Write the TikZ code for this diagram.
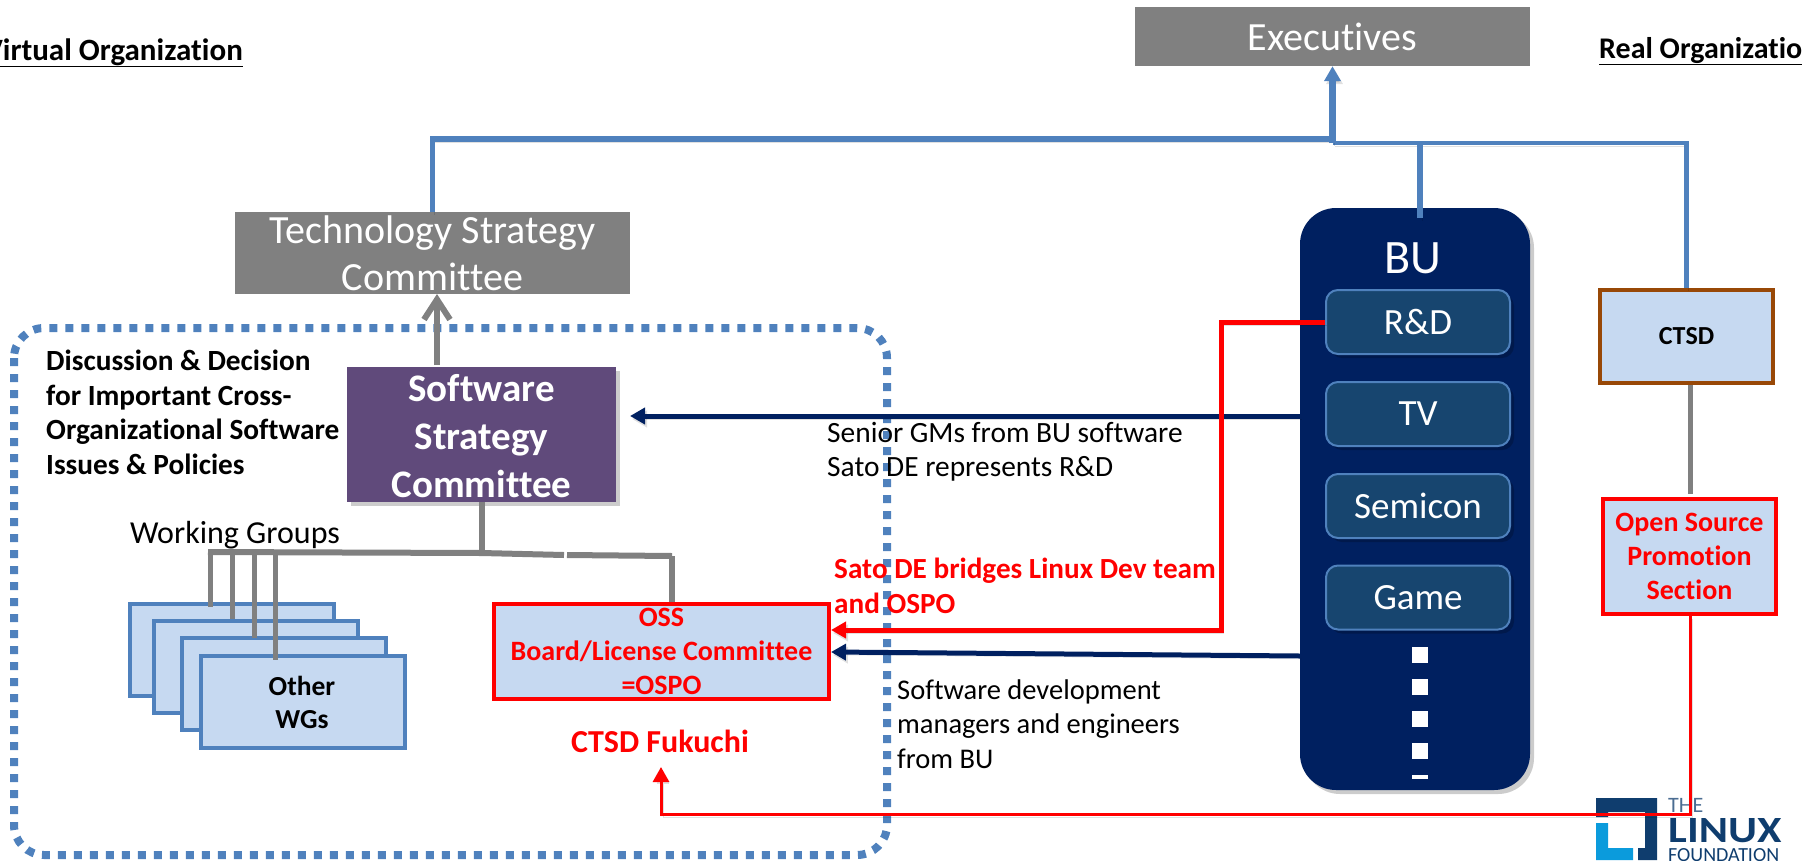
\documentclass[tikz,border=0pt]{standalone}
\usepackage{fontspec}
\setmainfont[Ligatures=CommonOff]{Carlito}
\usetikzlibrary{arrows.meta}
\usetikzlibrary{shadows}

\definecolor{boxblue}{HTML}{C6D9F1}
\definecolor{lineblue}{HTML}{4F81BD}
\definecolor{navyblue}{HTML}{002060}
\definecolor{itemblue}{HTML}{17456F}
\definecolor{purplebox}{HTML}{604A7B}
\definecolor{brownline}{HTML}{984807}
\definecolor{logoblue}{HTML}{0F3D6E}
\definecolor{logocyan}{HTML}{0B9BDC}

\tikzset{
    softshadow/.style={drop shadow={shadow xshift=4pt, shadow yshift=-4pt, fill=black, opacity=0.2}},
    lineshadow/.style={preaction={draw=black, opacity=0.12, transform canvas={shift={(2pt,-3pt)}}}},
    greybox/.style={fill=gray, text=white, inner sep=0pt, font=\fontsize{40}{47}\selectfont, align=center},
    wgbox/.style={draw=lineblue, line width=4pt, fill=boxblue, minimum width=204pt, minimum height=92pt},
    redbox/.style={draw=red, line width=4pt, fill=boxblue, text=red, inner sep=0pt, font=\fontsize{28}{34}\selectfont\bfseries, align=center},
    buitem/.style={draw=lineblue, line width=2pt, fill=itemblue, text=white, rounded corners=12pt, minimum width=184pt, minimum height=64pt, font=\fontsize{37}{40}\selectfont, softshadow},
    note/.style={inner sep=0pt, anchor=west, align=left, font=\fontsize{29.4}{34.5}\selectfont},
    rednote/.style={note, text=red, font=\fontsize{29.2}{35}\selectfont\bfseries},
    blueline/.style={draw=lineblue, line width=5.5pt, lineshadow},
    navyline/.style={draw=navyblue, line width=5pt, lineshadow, -{Triangle[length=15pt, width=16pt]}},
    redline/.style={draw=red, line width=5pt, lineshadow},
    greyline/.style={draw=gray, line width=6pt},
}

\begin{document}
\begin{tikzpicture}[x=1pt, y=-1pt]
    \clip (0,0) rectangle (1802,860);

    % frame round the virtual organization
    \draw [lineblue, line width=8pt, dash pattern=on 8pt off 8pt, rounded corners=30pt] (14,328) rectangle (887,855);

    % headings
    \node (virtual) [inner sep=0pt, anchor=base east, font=\fontsize{31}{31}\selectfont\bfseries] at (243,60) {\underline{Virtual Organization}};
    \node (real) [inner sep=0pt, anchor=base west, font=\fontsize{30}{30}\selectfont\bfseries] at (1599,58) {\underline{Real Organization}};

    % committees
    \node (exec) [greybox, minimum width=395pt, minimum height=59pt] at (1332.5,36.5) {Executives};
    \node (tech) [greybox, minimum width=395pt, minimum height=82pt] at (432.5,253) {Technology Strategy\\Committee};
    \node (soft) [fill=purplebox, text=white, softshadow, minimum width=269pt, minimum height=135pt, inner sep=0pt, align=center, font=\fontsize{39}{48}\selectfont\bfseries] at (481.5,434.5) {\rule{0pt}{31pt}Software\\Strategy\\Committee};

    % business units
    \node (bu) [fill=navyblue, rounded corners=36pt, softshadow, minimum width=230pt, minimum height=582pt] at (1415,499) {};
    \node (butitle) [text=white, inner sep=0pt, font=\fontsize{48}{50}\selectfont] at (1413,258) {BU};
    \foreach \name/\txt/\y in {rd/R\&D/322, tv/TV/414, semi/Semicon/506, game/Game/597.5} {
        \node (\name) [buitem] at (1418,\y) {\txt};
    }
    \coordinate (dotstop) at (1420,647);
    \coordinate (dotsend) at (1420,779);
    \draw [white, line width=16pt, dash pattern=on 16pt off 16pt] (dotstop) -- (dotsend);

    % real organization
    \node (ctsd) [draw=brownline, line width=4pt, fill=boxblue, minimum width=173pt, minimum height=93pt, font=\fontsize{26}{28}\selectfont\bfseries] at (1686.5,336.5) {CTSD};
    \node (oss) [redbox, minimum width=173pt, minimum height=115pt] at (1689.5,556.5) {Open Source\\Promotion\\Section};

    % working groups
    \foreach \i/\x/\y in {1/232/650, 2/255.5/666.5, 3/284/684, 4/302.5/702} {
        \node (wg\i) [wgbox] at (\x,\y) {};
    }
    \node (other) [inner sep=0pt, align=center, font=\fontsize{27.5}{33}\selectfont\bfseries] at (302,702) {Other\\WGs};
    \node (ospo) [redbox, minimum width=335pt, minimum height=95pt] at (661.5,651.5) {OSS\\Board/License Committee\\=OSPO};
    \node (fukuchi) [inner sep=0pt, text=red, font=\fontsize{32}{34}\selectfont\bfseries] at (660,741) {CTSD Fukuchi};
    \node (wgtitle) [inner sep=0pt, font=\fontsize{32}{34}\selectfont] at (235,535) {Working Groups};

    % notes
    \node (discuss) [note, font=\fontsize{29.3}{34.5}\selectfont\bfseries] at (46,412.5) {Discussion \& Decision\\for Important Cross-\\Organizational Software\\Issues \& Policies};
    \node (senior) [note] at (827,451.5) {Senior GMs from BU software\\Sato DE represents R\&D};
    \node (bridge) [rednote] at (834,585.5) {Sato DE bridges Linux Dev team\\and OSPO};
    \node (devnote) [note, font=\fontsize{28.5}{34.5}\selectfont] at (897,724) {Software development\\managers and engineers\\from BU};

    % logo
    \fill [logoblue] (1596,798) -- (1657,798) -- (1657,860) -- (1638,860) -- (1638,848) -- (1645,848) -- (1645,812) -- (1608,812) -- (1608,817) -- (1596,817) -- cycle;
    \fill [logocyan] (1596,823) -- (1608,823) -- (1608,848) -- (1633,848) -- (1633,860) -- (1596,860) -- cycle;
    \node (lfthe) [inner sep=0pt, anchor=base west, text=logoblue!75, font=\fontsize{22}{22}\selectfont] at (1668,812) {THE};
    \node (lflinux) [inner sep=0pt, anchor=base west, text=logoblue, font=\fontsize{37}{37}\selectfont\bfseries] at (1668,842) {\scalebox{1.2}[1]{LINUX}};
    \node (lffound) [inner sep=0pt, anchor=base west, text=logoblue, font=\fontsize{20}{20}\selectfont] at (1668,861) {FOUNDATION};

    % reporting lines
    \coordinate (topleft) at (tech.north |- 0,139);
    \coordinate (topmid) at (exec.south |- 0,139);
    \coordinate (topright) at (ctsd.north |- 0,143);
    \coordinate (topmidb) at (exec.south |- 0,143);
    \coordinate (bujoin) at (1420,141);
    \coordinate (bustop) at (1420,218);
    \draw [blueline] (tech.north) -- (topleft) -- (topmid);
    \draw [blueline, line width=4.5pt] (ctsd.north) -- (topright) -- (topmidb);
    \draw [blueline] (bustop) -- (bujoin);
    \draw [blueline, line width=7pt, -{Triangle[length=15pt, width=16pt]}] (topmidb) -- (exec.south);

    \coordinate (softtop) at (437,365);
    \coordinate (techbot) at (437,294);
    \draw [greyline, -{Straight Barb[length=20pt, width=26pt]}] (softtop) -- (techbot);

    % working group lines
    \coordinate (wgleft) at (208,552);
    \coordinate (wgmid) at (soft.south |- 0,553);
    \coordinate (wggap) at (564,555);
    \coordinate (wggapb) at (567,555);
    \coordinate (wgright) at (672,556);
    \draw [greyline] (soft.south) -- (wgmid);
    \draw [greyline] (wgleft) -- (wgmid) -- (wggap);
    \draw [greyline] (wggapb) -- (wgright);
    \draw [greyline] (wgright) -- (wgright |- ospo.north);
    \foreach \x/\y in {210/607, 232/619, 254/638, 275/660} {
        \draw [greyline, line width=5pt] (\x,552) -- (\x,\y);
    }
    \draw [greyline, line width=5pt] (ctsd.south -| 1690.5,0) -- (1690.5,494);

    % links from the units
    \coordinate (softarrow) at (630,416);
    \coordinate (ospored) at (ospo.east |- 0,630);
    \coordinate (ospoblue) at (ospo.east |- 0,652);
    \draw [navyline] (bu.west |- 0,416) -- (softarrow);
    \draw [navyline] (bu.west |- 0,656) -- (ospoblue);
    \coordinate (redcornera) at (1221,322);
    \coordinate (redcornerb) at (1221,630);
    \draw [redline, -{Triangle[length=15pt, width=16pt]}] (rd.west) -- (redcornera) -- (redcornerb) -- (ospored);
    \coordinate (ossa) at (1690,814);
    \coordinate (ossb) at (661,814);
    \coordinate (ossc) at (661,767);
    \draw [redline, line width=3pt, -{Triangle[length=15pt, width=16pt]}] (oss.south -| ossa) -- (ossa) -- (ossb) -- (ossc);
\end{tikzpicture}
\end{document}
